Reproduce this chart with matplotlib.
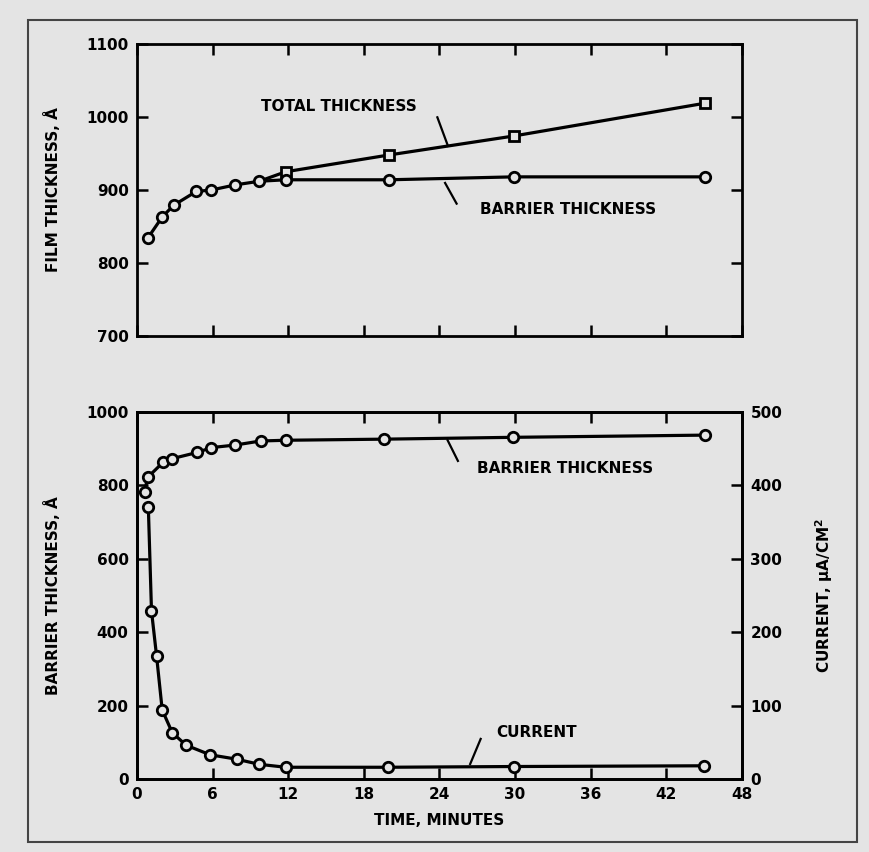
import matplotlib.pyplot as plt
from matplotlib.patches import Rectangle

# film thickness (upper panel), angstrom vs minutes
film_time = [0.85, 2.0, 2.9, 4.7, 5.9, 7.8, 9.7, 11.8, 20.0, 29.9, 45.1]
total_thick = [834, 863, 879, 898, 900, 907, 912, 925, 948, 974, 1019]
barrier_top = [834, 863, 879, 898, 900, 907, 912, 914, 914, 918, 918]

# barrier thickness (lower panel)
bar_time = [0.6, 0.85, 2.1, 2.8, 4.8, 5.9, 7.8, 9.8, 11.8, 19.6, 29.8, 45.1]
bar_thick = [783, 822, 864, 873, 890, 903, 910, 921, 923, 926, 931, 937]

# current density, uA/cm2
cur_time = [0.9, 1.15, 1.55, 2.0, 2.8, 3.9, 5.8, 7.9, 9.7, 11.8, 19.9, 29.9, 45.0]
current = [370, 229, 168, 94, 63, 46, 33, 27, 20, 16, 16, 17, 18]

time_ticks = [0, 6, 12, 18, 24, 30, 36, 42, 48]

BG = '#e4e4e4'
plt.rcParams['font.family'] = 'DejaVu Sans'
plt.rcParams['font.weight'] = 'bold'
plt.rcParams['axes.labelweight'] = 'bold'

fig = plt.figure(figsize=(8.7, 8.52), dpi=100, facecolor=BG)

# page frame
fig.patches.append(Rectangle((28 / 870, 1 - 842 / 852), (857 - 28) / 870, (842 - 20) / 852,
                             transform=fig.transFigure, fill=False, edgecolor='#444444', lw=1.5))

line_kw = dict(color='black', lw=2.3, markersize=7.5, markerfacecolor=BG,
               markeredgecolor='black', markeredgewidth=2)
lead_kw = dict(color='black', lw=1.6, solid_capstyle='butt')


def style(ax):
    for s in ax.spines.values():
        s.set_linewidth(2)
    ax.set_facecolor('none')
    ax.tick_params(direction='in', length=8, width=1.8, labelsize=11, pad=6)


# upper panel
ax1 = fig.add_axes([137 / 870, 1 - 336 / 852, 605 / 870, 292 / 852])
style(ax1)
ax1.plot(film_time[6:], total_thick[6:], marker='s', markevery=list(range(1, 5)), **line_kw)
ax1.plot(film_time, barrier_top, marker='o', **line_kw)
ax1.set_xlim(0, 48)
ax1.set_ylim(700, 1100)
ax1.set_xticks(time_ticks)
ax1.set_yticks([700, 800, 900, 1000, 1100])
ax1.tick_params(top=True, right=True, labelbottom=False)
ax1.set_ylabel('FILM THICKNESS, Å', fontsize=11, labelpad=18)
ax1.text(16, 1014, 'TOTAL THICKNESS', ha='center', va='center', fontsize=11)
ax1.plot([23.8, 24.7], [1001, 959], **lead_kw)
ax1.text(34.2, 873, 'BARRIER THICKNESS', ha='center', va='center', fontsize=11)
ax1.plot([25.4, 24.4], [880, 911], **lead_kw)

# lower panel
ax2 = fig.add_axes([137 / 870, 1 - 779 / 852, 605 / 870, 367 / 852])
style(ax2)
ax2.plot(bar_time, bar_thick, marker='o', **line_kw)
ax2.set_xlim(0, 48)
ax2.set_ylim(0, 1000)
ax2.set_xticks(time_ticks)
ax2.set_yticks([0, 200, 400, 600, 800, 1000])
ax2.tick_params(top=True)
ax2.set_xlabel('TIME, MINUTES', fontsize=11, labelpad=8)
ax2.set_ylabel('BARRIER THICKNESS, Å', fontsize=11, labelpad=18)
ax2.text(34, 845, 'BARRIER THICKNESS', ha='center', va='center', fontsize=11)
ax2.plot([24.6, 25.5], [926, 864], **lead_kw)

ax3 = ax2.twinx()
style(ax3)
ax3.plot(cur_time, current, marker='o', **line_kw)
ax3.set_ylim(0, 500)
ax3.set_yticks([0, 100, 200, 300, 400, 500])
ax3.set_ylabel('CURRENT, μA/CM$^\\mathbf{2}$', fontsize=11, labelpad=22)
ax3.text(31.7, 64, 'CURRENT', ha='center', va='center', fontsize=11)
ax3.plot([27.3, 26.4], [56, 19], **lead_kw)

fig.savefig('out.png', dpi=100, facecolor=BG)
